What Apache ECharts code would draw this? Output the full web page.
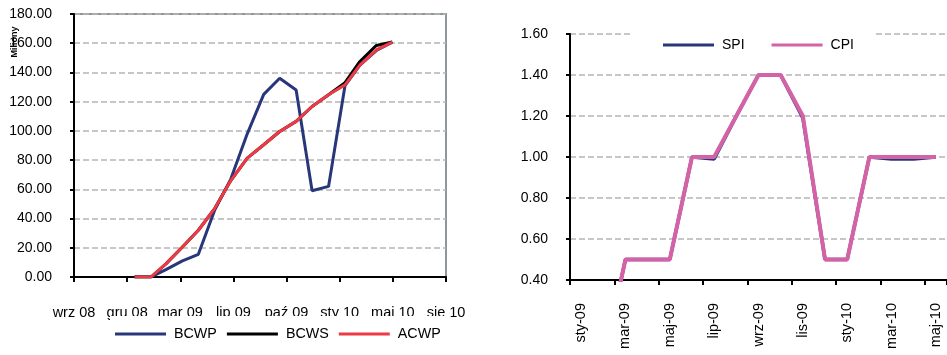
<!DOCTYPE html>
<html>
<head>
<meta charset="utf-8">
<script src="https://cdn.jsdelivr.net/npm/echarts@6/dist/echarts.min.js"></script>
<style>
  html, body { margin: 0; padding: 0; background: #fff; }
  #chart { width: 947px; height: 355px; }
</style>
</head>
<body>
<div id="chart"></div>
<script>
// ---- Earned value (cumulative, millions), reported at month end ----
const reportDates = [
  '2008-12-31', '2009-01-31', '2009-02-28', '2009-03-31', '2009-04-30', '2009-05-31',
  '2009-06-30', '2009-07-31', '2009-08-31', '2009-09-30', '2009-10-31', '2009-11-30',
  '2009-12-31', '2010-01-31', '2010-02-28', '2010-03-31', '2010-04-30'
];
const bcwp = [0, 0, 5, 11, 15.5, 46, 67, 98, 125, 136, 128, 59, 62, 131, 145, 155, 160.8];
const bcws = [0, 0, 9, 20.5, 32, 47, 66, 81.4, 90.5, 99.6, 106.5, 116.7, 124.7, 133, 147.5, 158.5, 160.8];
const acwp = [0, 0, 9, 20.5, 32, 47, 66, 81.4, 90.5, 99.6, 106.5, 116.7, 124.7, 131.5, 145, 155.5, 160.8];

// Date axis: ticks every 100 days starting from this day
const dateAxisStart = '2008-09-08';
const dateTickLabels = ['wrz 08', 'gru 08', 'mar 09', 'lip 09', 'paź 09', 'sty 10', 'maj 10', 'sie 10'];

// ---- Performance indices, monthly ----
const indexMonths = [
  'sty-09', 'lut-09', 'mar-09', 'kwi-09', 'maj-09', 'cze-09', 'lip-09', 'sie-09', 'wrz-09',
  'paź-09', 'lis-09', 'gru-09', 'sty-10', 'lut-10', 'mar-10', 'kwi-10', 'maj-10'
];
const spi = [0, 0, 0.5, 0.5, 0.5, 1.0, 0.99, 1.2, 1.4, 1.4, 1.19, 0.5, 0.5, 1.0, 0.99, 0.99, 1.0];
const cpi = [0, 0, 0.5, 0.5, 0.5, 1.0, 1.0, 1.2, 1.4, 1.4, 1.2, 0.5, 0.5, 1.0, 1.0, 1.0, 1.0];

const FONT = 'Liberation Sans, Arial, sans-serif';
const NAVY = '#28377a';
const RED = '#ee3a45';
const PINK = '#d462a7';
const GRID_GRAY = '#b5b5b5';

const dayMs = 864e5;
const startMs = Date.parse(dateAxisStart);
const toDay = d => (Date.parse(d) - startMs) / dayMs;
const pairs = values => reportDates.map((d, i) => [toDay(d), values[i]]);

const dashed = { show: true, lineStyle: { color: GRID_GRAY, type: [6, 3], width: 1.5 } };
const blackAxis = { show: true, lineStyle: { color: '#000', width: 2 } };
const labelStyle = { color: '#000', fontFamily: FONT, fontSize: 14 };

const chart = echarts.init(document.getElementById('chart'), null, { renderer: 'canvas' });

chart.setOption({
  animation: false,
  backgroundColor: '#fff',
  textStyle: { fontFamily: FONT },
  grid: [
    { left: 74, top: 14, width: 372, height: 263, show: true, borderColor: '#8e979c', borderWidth: 2,
      containLabel: false, outerBoundsMode: 'none' },
    { left: 570, top: 34, width: 377, height: 246, containLabel: false, outerBoundsMode: 'none' }
  ],
  xAxis: [
    {
      gridIndex: 0, type: 'value', min: 0, max: 700, interval: 100,
      axisLine: blackAxis,
      axisTick: { show: true, length: 5, lineStyle: { color: '#000', width: 2 } },
      axisLabel: Object.assign({}, labelStyle, {
        fontSize: 14.5, margin: 28, showMinLabel: true, showMaxLabel: true,
        formatter: v => dateTickLabels[Math.round(v / 100)] || ''
      }),
      splitLine: { show: false }
    },
    {
      gridIndex: 1, type: 'category', data: indexMonths, boundaryGap: true,
      axisLine: blackAxis,
      axisTick: { show: true, interval: 1, length: 5, lineStyle: { color: '#000', width: 2 } },
      axisLabel: Object.assign({}, labelStyle, { fontSize: 14.5, interval: 1, rotate: 90, margin: 23 }),
      splitLine: { show: false }
    }
  ],
  yAxis: [
    {
      gridIndex: 0, type: 'value', min: 0, max: 180, interval: 20,
      axisLine: blackAxis,
      axisTick: { show: true, length: 4, lineStyle: { color: '#000', width: 2 } },
      axisLabel: Object.assign({}, labelStyle, { margin: 22, formatter: v => v.toFixed(2) }),
      splitLine: dashed
    },
    {
      gridIndex: 1, type: 'value', min: 0.4, max: 1.6, interval: 0.2,
      axisLine: blackAxis,
      axisTick: { show: true, length: 4, lineStyle: { color: '#000', width: 2 } },
      axisLabel: Object.assign({}, labelStyle, { margin: 22, formatter: v => v.toFixed(2) }),
      splitLine: dashed
    }
  ],
  legend: [
    {
      data: ['BCWP', 'BCWS', 'ACWP'],
      left: 110, top: 316, padding: [11, 10, 9, 5],
      icon: 'rect',
      backgroundColor: '#fff', itemWidth: 51, itemHeight: 3, itemGap: 10,
      textStyle: { color: '#000', fontFamily: FONT, fontSize: 14.3, padding: [0, 0, 0, 3] }
    },
    {
      data: ['SPI', 'CPI'],
      left: 632, top: 28, padding: [10, 19, 10, 31],
      icon: 'rect',
      backgroundColor: '#fff', itemWidth: 51, itemHeight: 3, itemGap: 27,
      textStyle: { color: '#000', fontFamily: FONT, fontSize: 14, padding: [0, 0, 0, 3] }
    }
  ],
  graphic: [
    {
      type: 'text', x: 15, y: 42, rotation: Math.PI / 2,
      style: { text: 'Miliony', fill: '#000', font: 'bold 9px ' + FONT, align: 'center', verticalAlign: 'middle' }
    }
  ],
  series: [
    { name: 'BCWP', type: 'line', xAxisIndex: 0, yAxisIndex: 0, data: pairs(bcwp), symbol: 'none',
      color: NAVY, lineStyle: { color: NAVY, width: 3 } },
    { name: 'BCWS', type: 'line', xAxisIndex: 0, yAxisIndex: 0, data: pairs(bcws), symbol: 'none',
      color: '#000', lineStyle: { color: '#000', width: 3 } },
    { name: 'ACWP', type: 'line', xAxisIndex: 0, yAxisIndex: 0, data: pairs(acwp), symbol: 'none',
      color: RED, lineStyle: { color: RED, width: 3 } },
    { name: 'SPI', type: 'line', xAxisIndex: 1, yAxisIndex: 1, data: spi, symbol: 'none',
      color: NAVY, lineStyle: { color: NAVY, width: 3.5 } },
    { name: 'CPI', type: 'line', xAxisIndex: 1, yAxisIndex: 1, data: cpi, symbol: 'none',
      color: PINK, lineStyle: { color: PINK, width: 4 } }
  ]
});
</script>
</body>
</html>
